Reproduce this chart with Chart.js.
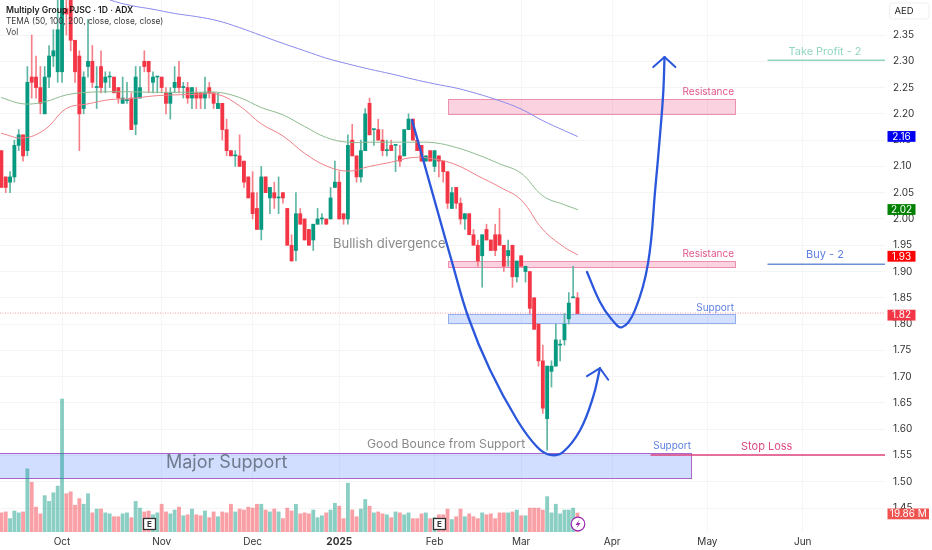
<!DOCTYPE html>
<html>
<head>
<meta charset="utf-8">
<style>
  html, body { margin: 0; padding: 0; background: #fff; }
  #wrap { width: 932px; height: 550px; }
</style>
<script src="https://cdn.jsdelivr.net/npm/chart.js@4"></script>
</head>
<body>
<div id="wrap"><canvas id="chart"></canvas></div>
<script>
// bar index 0 is 1 Oct 2024, the first bar on screen is -14
const firstBar = -14;
const opens = [
  2.13,2.08,2.07,2.08,2.14,2.16,2.13,2.27,2.27,2.25,
  2.20,2.27,2.31,2.28,2.28,2.40,2.43,2.34,2.31,2.21,
  2.29,2.30,2.25,2.29,2.26,2.27,2.27,2.25,2.22,2.225,
  2.23,2.18,2.23,2.30,2.30,2.26,2.27,2.27,2.24,2.22,
  2.25,2.27,2.25,2.25,2.23,2.24,2.24,2.23,2.25,2.24,
  2.21,2.22,2.17,2.13,2.12,2.12,2.11,2.08,2.05,2.02,
  1.98,2.08,2.04,2.05,2.04,2.05,2.02,1.95,1.94,2.01,
  2.00,1.98,1.96,1.99,2.00,2.00,2.00,2.06,2.07,2.01,
  2.00,2.15,2.12,2.08,2.13,2.22,2.17,2.17,2.15,2.13,
  2.14,2.14,2.12,2.12,2.17,2.19,2.15,2.14,2.11,2.13,
  2.10,2.12,2.11,2.09,2.02,2.06,2.03,2.00,2.01,1.97,
  1.95,1.93,1.98,1.96,1.97,1.97,1.95,1.93,1.95,1.89,
  1.93,1.90,1.90,1.85,1.80,1.73,1.62,1.71,1.72,1.76,
  1.77,1.81,1.85,1.85
];
const closes = [
  2.06,2.06,2.08,2.14,2.16,2.12,2.26,2.26,2.25,2.22,
  2.27,2.31,2.32,2.36,2.43,2.39,2.34,2.28,2.20,2.27,
  2.30,2.26,2.25,2.25,2.27,2.27,2.24,2.23,2.23,2.225,
  2.17,2.27,2.25,2.29,2.28,2.27,2.27,2.25,2.22,2.24,
  2.26,2.25,2.25,2.23,2.25,2.23,2.23,2.24,2.24,2.22,
  2.22,2.17,2.13,2.12,2.12,2.10,2.07,2.04,2.01,1.98,
  2.08,2.05,2.06,2.04,2.04,2.04,1.95,1.92,2.01,1.99,
  1.96,1.95,1.99,2.00,2.00,1.99,2.04,2.07,2.00,2.00,
  2.14,2.12,2.08,2.13,2.20,2.16,2.17,2.15,2.13,2.13,
  2.13,2.14,2.11,2.17,2.19,2.15,2.13,2.11,2.12,2.11,
  2.13,2.11,2.09,2.03,2.05,2.03,2.00,2.01,1.97,1.95,
  1.92,1.97,1.96,1.94,1.94,1.95,1.91,1.94,1.89,1.92,
  1.91,1.91,1.83,1.79,1.73,1.64,1.72,1.72,1.77,1.76,
  1.80,1.84,1.85,1.82
];
const highs = [
  2.13,2.08,2.09,2.15,2.17,2.16,2.29,2.35,2.31,2.29,
  2.29,2.33,2.36,2.43,2.44,2.43,2.44,2.34,2.32,2.28,
  2.38,2.33,2.29,2.32,2.28,2.28,2.27,2.25,2.27,2.26,
  2.24,2.29,2.29,2.32,2.30,2.28,2.27,2.27,2.25,2.25,
  2.29,2.30,2.26,2.26,2.25,2.25,2.24,2.27,2.26,2.24,
  2.24,2.22,2.19,2.13,2.13,2.16,2.11,2.08,2.09,2.05,
  2.10,2.08,2.06,2.07,2.08,2.05,2.02,1.97,2.05,2.02,
  2.00,1.98,1.99,2.02,2.01,2.00,2.06,2.11,2.09,2.01,
  2.16,2.18,2.12,2.15,2.21,2.23,2.17,2.19,2.17,2.15,
  2.15,2.14,2.14,2.17,2.20,2.19,2.15,2.14,2.12,2.13,
  2.13,2.12,2.11,2.09,2.06,2.06,2.04,2.01,2.01,1.98,
  1.96,1.97,1.99,1.96,1.99,2.02,1.95,1.96,1.95,1.92,
  1.93,1.91,1.90,1.85,1.80,1.76,1.72,1.73,1.80,1.77,
  1.82,1.86,1.91,1.86
];
const lows = [
  2.06,2.05,2.05,2.07,2.13,2.11,2.12,2.23,2.23,2.20,
  2.20,2.25,2.29,2.26,2.26,2.35,2.32,2.26,2.13,2.20,
  2.27,2.25,2.21,2.24,2.24,2.25,2.24,2.22,2.22,2.22,
  2.17,2.16,2.23,2.28,2.24,2.24,2.24,2.24,2.20,2.19,
  2.24,2.24,2.23,2.22,2.21,2.21,2.21,2.21,2.23,2.21,
  2.21,2.15,2.12,2.12,2.10,2.10,2.06,2.04,2.00,1.98,
  1.96,2.05,2.01,2.02,2.01,2.03,1.95,1.92,1.92,1.99,
  1.96,1.95,1.94,1.99,1.99,1.99,2.00,2.06,2.00,1.99,
  1.99,2.12,2.07,2.07,2.13,2.16,2.14,2.15,2.12,2.12,
  2.13,2.09,2.10,2.12,2.17,2.15,2.13,2.11,2.11,2.11,
  2.09,2.08,2.07,2.02,2.02,2.02,1.99,1.98,1.97,1.95,
  1.91,1.87,1.96,1.94,1.93,1.95,1.90,1.91,1.87,1.88,
  1.91,1.88,1.82,1.79,1.72,1.63,1.56,1.68,1.72,1.73,
  1.76,1.80,1.85,1.82
];
// volume in millions
const volumes = [
  20,21,14,22,20,21,66,52,26,19,
  38,32,41,48,139,40,42,28,35,29,
  40,20,24,24,20,19,16,16,19,20,
  15,32,25,21,22,18,20,29,21,19,
  23,26,17,18,24,18,17,22,15,21,
  16,21,20,29,21,24,23,26,25,29,
  29,23,21,24,21,14,25,22,29,19,
  20,19,23,15,17,20,23,30,27,14,
  51,23,16,24,34,27,20,21,19,18,
  15,21,20,18,20,14,14,19,20,14,
  15,18,18,24,13,16,24,16,19,16,
  14,20,18,19,14,20,20,20,21,23,
  17,17,25,25,25,23,37,20,29,19,
  23,23,25,19.86
];

// TEMA values, read every fifth bar
const temaBars = [-14,-9,-4,1,6,11,16,21,26,31,36,41,46,51,56,61,66,71,76,81,86,91,96,101,106,111,116,119];
const tema50 = [2.163,2.154,2.170,2.210,2.219,2.227,2.229,2.234,2.236,2.237,2.237,2.215,2.181,2.158,2.125,2.101,2.091,2.100,2.108,2.117,2.114,2.103,2.082,2.061,2.036,1.980,1.946,1.932];
const tema100 = [2.231,2.219,2.223,2.236,2.241,2.242,2.242,2.241,2.241,2.241,2.241,2.231,2.212,2.198,2.176,2.155,2.146,2.146,2.146,2.146,2.145,2.136,2.122,2.105,2.087,2.044,2.027,2.018];
const tema200 = [null,null,null,null,2.435,2.417,2.406,2.399,2.391,2.385,2.377,2.364,2.349,2.334,2.320,2.306,2.295,2.285,2.276,2.266,2.257,2.249,2.238,2.225,2.209,2.187,2.168,2.157];

// month ticks on the bar axis
const monthBars = [0,23,44,64,86,106,127,149,171];
const monthLabels = ["Oct","Nov","Dec","2025","Feb","Mar","Apr","May","Jun"];

// hand drawn blue curves: bar index and price
const swingBars = [80.8,83.4,86.7,90.1,93.8,98.8,105.1,109.7,112.7,115.7,119.6,122.6,124.2];
const swingPrices = [2.188,2.112,2.015,1.916,1.813,1.713,1.617,1.566,1.551,1.557,1.598,1.661,1.716];
const swingHeadBars = [121.2,124.2,126.1];
const swingHeadPrices = [1.701,1.716,1.694];
const retestBars = [121.2,124.2,126.6,129.3,132.3,135.3,137,138.1,138.8,139.1];
const retestPrices = [1.899,1.842,1.812,1.794,1.827,1.916,2.061,2.164,2.240,2.308];
const retestHeadBars = [136.5,139.1,141.6];
const retestHeadPrices = [2.289,2.308,2.289];

// level lines: start bar, end bar, price
const takeProfitLine = [163,190,2.302];
const buyLine = [163,190,1.914];
const stopLine = [136,190,1.551];
const lastPrice = 1.82;

// zones: start bar, end bar, high, low
const majorZone = [-15,145.3,1.554,1.508];
const resistanceHigh = [89,155.3,2.228,2.200];
const resistanceLow = [89,155.3,1.920,1.909];
const supportZone = [89,155.3,1.819,1.803];

const UP = "#089981", DOWN = "#f23645";
const UP_WICK = "#5fb5a3", DOWN_WICK = "#f5808a";
const FONT = "Inter, Roboto, sans-serif";

const bars = opens.map((o, i) => i + firstBar);
const isUp = opens.map((o, i) => closes[i] >= o);

function pairs(xs, ys) {
  return xs.map((x, i) => ({ x: x, y: ys[i] }));
}

function lineSet(xs, ys, color, width, order, curved) {
  return {
    type: "line",
    data: pairs(xs, ys),
    borderColor: color,
    borderWidth: width,
    pointRadius: 0,
    order: order,
    spanGaps: false,
    borderCapStyle: "round",
    borderJoinStyle: "round",
    tension: curved ? 0.4 : 0
  };
}

function levelSet(lvl, color) {
  return lineSet([lvl[0], lvl[1]], [lvl[2], lvl[2]], color, 1.5, 2, false);
}

// zones and text go on the canvas through the chart's own scales
const overlay = {
  id: "overlay",
  beforeDatasetsDraw(chart) {
    const { ctx } = chart;
    const xs = chart.scales.x, ys = chart.scales.y;
    const area = chart.chartArea;
    ctx.save();
    const zone = (z, fill, stroke) => {
      const x0 = Math.round(xs.getPixelForValue(z[0])) + 0.5, x1 = Math.round(xs.getPixelForValue(z[1])) + 0.5;
      const y0 = Math.round(ys.getPixelForValue(z[2])) + 0.5, y1 = Math.round(ys.getPixelForValue(z[3])) + 0.5;
      ctx.fillStyle = fill;
      ctx.fillRect(x0, y0, x1 - x0, y1 - y0);
      ctx.strokeStyle = stroke;
      ctx.lineWidth = 1;
      ctx.strokeRect(x0, y0, x1 - x0, y1 - y0);
    };
    zone(majorZone, "rgba(41,98,255,0.21)", "#a866c8");
    zone(resistanceHigh, "rgba(233,30,99,0.2)", "#ec8fb0");
    zone(resistanceLow, "rgba(233,30,99,0.2)", "#ec8fb0");
    zone(supportZone, "rgba(41,98,255,0.2)", "#92aef0");
    // last price dotted line
    const py = ys.getPixelForValue(lastPrice) - 0.5;
    ctx.strokeStyle = "#f4a0a8";
    ctx.setLineDash([1, 1.5]);
    ctx.beginPath();
    ctx.moveTo(area.left, py);
    ctx.lineTo(area.right, py);
    ctx.stroke();
    ctx.restore();
  },
  afterDraw(chart) {
    const { ctx } = chart;
    const ys = chart.scales.y;
    ctx.save();
    ctx.textBaseline = "middle";

    const text = (s, x, y, size, color, align, weight) => {
      ctx.font = (weight || "400") + " " + size + "px " + FONT;
      ctx.fillStyle = color;
      ctx.textAlign = align || "left";
      ctx.fillText(s, x, y);
    };
    const gray = "#8a8a8a";
    text("Multiply Group PJSC · 1D · ADX", 6, 10.5, 8.6, "#1c1c1c", "left", "600");
    text("TEMA (50, 100, 200, close, close, close)", 6, 21.5, 8.3, "#3a3a3a");
    text("Vol", 6, 32.5, 8.3, "#3a3a3a");

    text("Major Support", 166, 463, 18, "#6f7a8c");
    text("Bullish divergence", 333, 244, 13, gray);
    text("Good Bounce from Support", 367, 444, 12.2, gray);
    text("Resistance", 734, 92, 10, "#e0558c", "right");
    text("Resistance", 734, 254, 10, "#e0558c", "right");
    text("Support", 734, 307.5, 10, "#5d7fe0", "right");
    text("Support", 691, 446, 10, "#5d7fe0", "right");
    text("Take Profit - 2", 825, 51.5, 10.9, "#93d6c3", "center");
    text("Buy - 2", 825, 255, 11, "#5d7fe0", "center");
    text("Stop Loss", 741, 447, 11, "#dc4a82");

    // earnings markers and the lightning badge
    const earnings = (x) => {
      ctx.fillStyle = "#fff";
      ctx.strokeStyle = "#333";
      ctx.lineWidth = 1.3;
      ctx.fillRect(x, 518.5, 12, 11);
      ctx.strokeRect(x, 518.5, 12, 11);
      text("E", x + 6, 524.3, 8, "#333", "center", "700");
    };
    earnings(143.5);
    earnings(433.5);
    ctx.fillStyle = "#fff";
    ctx.strokeStyle = "#9c27b0";
    ctx.lineWidth = 1.2;
    ctx.beginPath();
    ctx.arc(578, 524, 6.8, 0, Math.PI * 2);
    ctx.fill();
    ctx.stroke();
    ctx.fillStyle = "#9c27b0";
    ctx.beginPath();
    ctx.moveTo(579.5, 519.5);
    ctx.lineTo(575.5, 525);
    ctx.lineTo(578, 525);
    ctx.lineTo(576.5, 528.5);
    ctx.lineTo(580.5, 523);
    ctx.lineTo(578, 523);
    ctx.closePath();
    ctx.fill();

    // price tags on the right axis
    const tag = (s, value, bg) => {
      const y = ys.getPixelForValue(value);
      ctx.fillStyle = bg;
      ctx.fillRect(887.5, y - 5.4, 28, 10.8);
      text(s, 901.5, y + 0.3, 10, "#fff", "center");
    };
    tag("2.16", 2.157, "#0000f0");
    tag("2.02", 2.018, "#008000");
    tag("1.93", 1.929, "#ff0000");
    tag("1.82", 1.817, "#f23645");
    ctx.fillStyle = "#ef5350";
    ctx.fillRect(887.5, 508.5, 41.5, 10.8);
    text("19.86 M", 908.3, 514.2, 10, "#fff", "center");

    ctx.strokeStyle = "#efefef";
    ctx.lineWidth = 1;
    ctx.fillStyle = "#fff";
    ctx.beginPath();
    ctx.roundRect(889.5, 3, 39.5, 16, 3);
    ctx.fill();
    ctx.stroke();
    text("AED", 904, 10.8, 9.5, "#222", "center");
    ctx.restore();
  }
};

new Chart(document.getElementById("chart"), {
  data: {
    datasets: [
      // price tool lines
      lineSet(swingBars, swingPrices, "#2b57dc", 2.3, 1, true),
      lineSet(swingHeadBars, swingHeadPrices, "#2b57dc", 2, 1, false),
      lineSet(retestBars, retestPrices, "#2b57dc", 2.3, 1, true),
      lineSet(retestHeadBars, retestHeadPrices, "#2b57dc", 2, 1, false),
      levelSet(takeProfitLine, "#8fd6c3"),
      levelSet(buyLine, "#6d8ed8"),
      levelSet(stopLine, "#e0427e"),
      // TEMA
      lineSet(temaBars, tema50, "#ee8088", 1, 3, true),
      lineSet(temaBars, tema100, "#8dbb90", 1, 3, true),
      lineSet(temaBars, tema200, "#8a8aee", 1, 3, true),
      // candle bodies then wicks
      {
        type: "bar",
        data: bars.map((x, i) => ({ x: x, y: [opens[i], closes[i]] })),
        backgroundColor: isUp.map(u => u ? UP : DOWN),
        barThickness: 3.2,
        minBarLength: 1,
        grouped: false,
        order: 4
      },
      {
        type: "bar",
        data: bars.map((x, i) => ({ x: x, y: [lows[i], highs[i]] })),
        backgroundColor: isUp.map(u => u ? UP_WICK : DOWN_WICK),
        barThickness: 1,
        grouped: false,
        order: 5
      },
      {
        type: "bar",
        yAxisID: "vol",
        data: pairs(bars, volumes),
        backgroundColor: isUp.map(u => u ? "rgba(8,153,129,0.47)" : "rgba(242,54,69,0.47)"),
        barThickness: 3.2,
        grouped: false,
        order: 6
      }
    ]
  },
  options: {
    responsive: true,
    maintainAspectRatio: false,
    animation: false,
    layout: { padding: 0 },
    plugins: { legend: { display: false }, tooltip: { enabled: false } },
    scales: {
      x: {
        type: "linear",
        min: -14.32,
        max: 190,
        offset: false,
        grid: { color: "#f6f6f6", drawTicks: false, offset: false },
        border: { display: false },
        afterFit(scale) {
          scale.height = 18;
          scale.paddingLeft = 0;
          scale.paddingRight = 0;
        },
        afterBuildTicks(scale) { scale.ticks = monthBars.map(v => ({ value: v })); },
        ticks: {
          autoSkip: false,
          maxRotation: 0,
          padding: 4,
          color: "#333",
          font: ctx => ({ family: FONT, size: 10, weight: ctx.tick && ctx.tick.value === 64 ? "700" : "400" }),
          callback: v => monthLabels[monthBars.indexOf(v)]
        }
      },
      y: {
        type: "linear",
        position: "right",
        min: 1.4044,
        max: 2.4166,
        grid: { color: "#f4f4f4", drawTicks: false },
        border: { display: false },
        afterFit(scale) {
          scale.width = 47;
          scale.paddingTop = 0;
          scale.paddingBottom = 0;
        },
        afterBuildTicks(scale) { scale.ticks = scale.ticks.filter(t => t.value > 1.41 && t.value < 2.38); },
        ticks: {
          stepSize: 0.05,
          padding: 8,
          color: "#333",
          font: { family: FONT, size: 10 },
          callback: v => v.toFixed(2)
        }
      },
      vol: {
        type: "linear",
        display: false,
        min: 0,
        max: 556
      }
    }
  },
  plugins: [overlay]
});
</script>
</body>
</html>
